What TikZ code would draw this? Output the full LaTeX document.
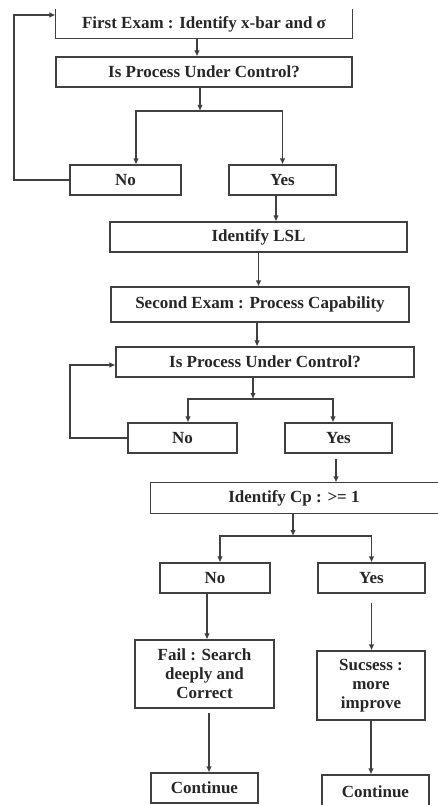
\documentclass[tikz,border=0pt]{standalone}
\usepackage{fontspec}
\setmainfont{Liberation Serif}
\usetikzlibrary{arrows.meta,calc}
\begin{document}
\begin{tikzpicture}[x=1pt, y=-1pt,
    every node/.style={font=\bfseries\fontsize{17}{19}\selectfont, text=black!85},
    n/.style={draw=black!75, line width=1.1pt, rectangle, inner sep=0pt, align=center},
    ln/.style={draw=black!75, line width=1.1pt},
    arr/.style={ln, -{Latex[length=6pt,width=5.5pt]}}]
    \useasboundingbox (0,0) rectangle (438,805);

    \node[n, draw=none, minimum width=296pt, minimum height=28pt] (a) at (204,24) {First Exam : Identify x-bar and σ};
    \node[n, minimum width=296pt, minimum height=30pt] (b) at (204,72) {Is Process Under Control?};
    \node[n, minimum width=111pt, minimum height=30pt] (c) at (125.5,180) {No};
    \node[n, minimum width=107pt, minimum height=30pt] (d) at (282.5,180) {Yes};
    \node[n, minimum width=297pt, minimum height=30pt] (e) at (258.5,237) {Identify LSL};
    \node[n, minimum width=298pt, minimum height=35pt] (f) at (260,304.5) {Second Exam : Process Capability};
    \node[n, minimum width=298pt, minimum height=30pt] (g) at (265,362) {Is Process Under Control?};
    \node[n, minimum width=109pt, minimum height=30pt] (h) at (182.5,438) {No};
    \node[n, minimum width=107pt, minimum height=30pt] (i) at (338.5,438) {Yes};
    \node[n, draw=none, minimum width=286pt, minimum height=30pt] (j) at (294,498) {Identify Cp : >= 1};
    \node[n, minimum width=110pt, minimum height=30pt] (k) at (215,578) {No};
    \node[n, minimum width=107pt, minimum height=30pt] (l) at (371.5,578) {Yes};
    \node[n, minimum width=139pt, minimum height=68pt] (m) at (204.5,674) {Fail : Search\\deeply and\\Correct};
    \node[n, minimum width=108pt, minimum height=69pt] (o) at (371,685.5) {Sucsess :\\more\\improve};
    \node[n, minimum width=107pt, minimum height=30pt] (p) at (204.5,788) {Continue};
    \node[n, minimum width=107pt, minimum height=34pt] (q) at (375.5,792) {Continue};

    \draw[ln] (a.north west) -- (a.south west) -- (a.south east) -- (a.north east);
    \draw[ln] ($(j.north east)+(10,0)$) -- (j.north west) -- (j.south west) -- ($(j.south east)+(10,0)$);

    \coordinate (s1) at (200,111);
    \coordinate (s2) at (253,399);
    \coordinate (s3) at (293,536);
    \coordinate (t1) at (14,15);
    \coordinate (t2) at (70,365);

    \draw[arr] ($(a.south)+(-7,0)$) -- ($(b.north)+(-7,0)$);
    \draw[arr] (b.south -| s1) -- (s1);
    \draw[arr] (s1) -| ($(c.north)+(10.5,0)$);
    \draw[arr] (s1) -| (d.north);
    \draw[arr] (c.west) -- (c.west -| t1) -- (t1) -- (t1 -| a.west);
    \draw[arr] ($(d.south)+(-6.5,0)$) -- ($(d.south |- e.north)+(-6.5,0)$);
    \draw[arr] (e.south) -- (e.south |- f.north);
    \draw[arr] ($(f.south)+(-3,0)$) -- ($(f.south |- g.north)+(-3,0)$);
    \draw[arr] (g.south -| s2) -- (s2);
    \draw[arr] (s2) -| ($(h.north)+(5.5,0)$);
    \draw[arr] (s2) -| ($(i.north)+(-5.5,0)$);
    \draw[arr] (h.west) -- (h.west -| t2) -- (t2) -- (t2 -| g.west);
    \draw[arr, shorten <=5pt] ($(i.south)+(-2.5,0)$) -- ($(i.south |- j.north)+(-2.5,0)$);
    \draw[arr] (j.south -| s3) -- (s3);
    \draw[arr] (s3) -| ($(k.north)+(5,0)$);
    \draw[arr] (s3) -| (l.north);
    \draw[arr] ($(k.south)+(-8,0)$) -- ($(k.south |- m.north)+(-8,0)$);
    \draw[arr, shorten <=9pt] (l.south) -- (l.south |- o.north);
    \draw[arr, shorten <=4pt] ($(m.south)+(4.5,0)$) -- ($(m.south |- p.north)+(4.5,0)$);
    \draw[arr] (o.south) -- (o.south |- q.north);
\end{tikzpicture}
\end{document}
